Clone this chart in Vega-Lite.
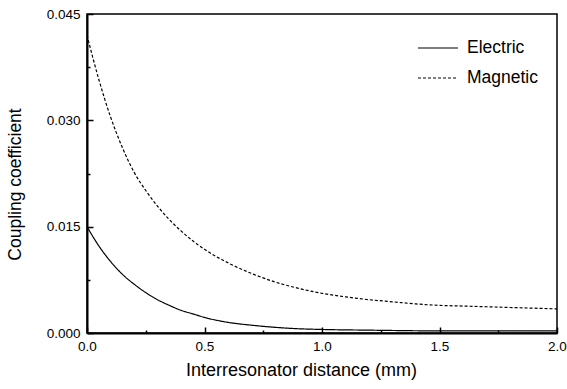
{
  "$schema": "https://vega.github.io/schema/vega-lite/v6.json",
  "width": 470,
  "height": 319,
  "autosize": "none",
  "padding": {"left": 87, "top": 14, "right": 10, "bottom": 56},
  "background": "white",
  "config": {
    "view": {"stroke": "black", "strokeWidth": 1.5},
    "font": "Liberation Sans"
  },
  "data": {
    "values": [
      {"d": 0.00, "k": 0.0420, "series": "Magnetic"},
      {"d": 0.05, "k": 0.0358, "series": "Magnetic"},
      {"d": 0.10, "k": 0.0305, "series": "Magnetic"},
      {"d": 0.15, "k": 0.0262, "series": "Magnetic"},
      {"d": 0.20, "k": 0.0227, "series": "Magnetic"},
      {"d": 0.25, "k": 0.0201, "series": "Magnetic"},
      {"d": 0.30, "k": 0.0179, "series": "Magnetic"},
      {"d": 0.35, "k": 0.0160, "series": "Magnetic"},
      {"d": 0.40, "k": 0.0144, "series": "Magnetic"},
      {"d": 0.45, "k": 0.0130, "series": "Magnetic"},
      {"d": 0.50, "k": 0.0118, "series": "Magnetic"},
      {"d": 0.60, "k": 0.0099, "series": "Magnetic"},
      {"d": 0.70, "k": 0.0084, "series": "Magnetic"},
      {"d": 0.80, "k": 0.0072, "series": "Magnetic"},
      {"d": 0.90, "k": 0.0063, "series": "Magnetic"},
      {"d": 1.00, "k": 0.0056, "series": "Magnetic"},
      {"d": 1.10, "k": 0.0051, "series": "Magnetic"},
      {"d": 1.20, "k": 0.0047, "series": "Magnetic"},
      {"d": 1.30, "k": 0.0044, "series": "Magnetic"},
      {"d": 1.40, "k": 0.0041, "series": "Magnetic"},
      {"d": 1.50, "k": 0.0039, "series": "Magnetic"},
      {"d": 1.60, "k": 0.0038, "series": "Magnetic"},
      {"d": 1.70, "k": 0.0037, "series": "Magnetic"},
      {"d": 1.80, "k": 0.0036, "series": "Magnetic"},
      {"d": 1.90, "k": 0.0035, "series": "Magnetic"},
      {"d": 2.00, "k": 0.0034, "series": "Magnetic"},
      {"d": 0.00, "k": 0.0150, "series": "Electric"},
      {"d": 0.05, "k": 0.0123, "series": "Electric"},
      {"d": 0.10, "k": 0.0101, "series": "Electric"},
      {"d": 0.15, "k": 0.0083, "series": "Electric"},
      {"d": 0.20, "k": 0.0069, "series": "Electric"},
      {"d": 0.25, "k": 0.0057, "series": "Electric"},
      {"d": 0.30, "k": 0.0047, "series": "Electric"},
      {"d": 0.35, "k": 0.0039, "series": "Electric"},
      {"d": 0.40, "k": 0.0032, "series": "Electric"},
      {"d": 0.45, "k": 0.0027, "series": "Electric"},
      {"d": 0.50, "k": 0.0022, "series": "Electric"},
      {"d": 0.60, "k": 0.0015, "series": "Electric"},
      {"d": 0.70, "k": 0.0011, "series": "Electric"},
      {"d": 0.80, "k": 0.0008, "series": "Electric"},
      {"d": 0.90, "k": 0.0006, "series": "Electric"},
      {"d": 1.00, "k": 0.0005, "series": "Electric"},
      {"d": 1.20, "k": 0.0004, "series": "Electric"},
      {"d": 1.50, "k": 0.0003, "series": "Electric"},
      {"d": 2.00, "k": 0.0003, "series": "Electric"}
    ]
  },
  "mark": {"type": "line", "color": "black", "strokeWidth": 1.2, "interpolate": "monotone", "clip": true},
  "encoding": {
    "x": {
      "field": "d", "type": "quantitative",
      "scale": {"domain": [0, 2], "nice": false, "zero": false},
      "axis": {
        "values": [0, 0.25, 0.5, 0.75, 1, 1.25, 1.5, 1.75, 2],
        "labelExpr": "round(datum.value*4) % 2 == 1 ? '' : format(datum.value, '.1f')",
        "grid": false,
        "domainColor": "black", "domainWidth": 2,
        "tickColor": "black", "tickWidth": 1.5,
        "tickSize": {"condition": {"test": "round(datum.value*4) % 2 == 1", "value": -3}, "value": -6},
        "labelPadding": 12,
        "labelFontSize": 13.5, "labelColor": "black", "labelFont": "Liberation Sans",
        "labelFlush": false, "labelOverlap": false,
        "title": "Interresonator distance (mm)",
        "titleFontSize": 18, "titleFontWeight": "normal", "titleColor": "black", "titleFont": "Liberation Sans",
        "titleX": 214, "titleY": 28, "titleBaseline": "top", "titleAlign": "center"
      }
    },
    "y": {
      "field": "k", "type": "quantitative",
      "scale": {"domain": [0, 0.045], "nice": false},
      "axis": {
        "values": [0, 0.0075, 0.015, 0.0225, 0.03, 0.0375, 0.045],
        "labelExpr": "round(datum.value/0.0075) % 2 == 1 ? '' : format(datum.value, '.3f')",
        "grid": false,
        "domainColor": "black", "domainWidth": 2,
        "tickColor": "black", "tickWidth": 1.5,
        "tickSize": {"condition": {"test": "round(datum.value/0.0075) % 2 == 1", "value": -3}, "value": -6},
        "labelPadding": 13,
        "labelFontSize": 13.5, "labelColor": "black", "labelFont": "Liberation Sans",
        "labelFlush": false, "labelOverlap": false,
        "title": "Coupling coefficient",
        "titleFontSize": 17.5, "titleFontWeight": "normal", "titleColor": "black", "titleFont": "Liberation Sans",
        "titleX": -72, "titleY": 170, "titleAlign": "center", "titleBaseline": "middle", "titleAngle": -90
      }
    },
    "strokeDash": {
      "field": "series", "type": "nominal",
      "scale": {"domain": ["Electric", "Magnetic"], "range": [[1, 0], [3, 2]]},
      "legend": {
        "title": null,
        "orient": "none",
        "legendX": 340,
        "legendY": 23,
        "symbolType": "M-2,0H2",
        "symbolSize": 400,
        "symbolStrokeColor": "black",
        "symbolStrokeWidth": 1.2,
        "labelFontSize": 17.5,
        "labelColor": "black",
        "labelFont": "Liberation Sans",
        "labelOffset": 18,
        "rowPadding": 10,
        "padding": 0
      }
    }
  }
}
